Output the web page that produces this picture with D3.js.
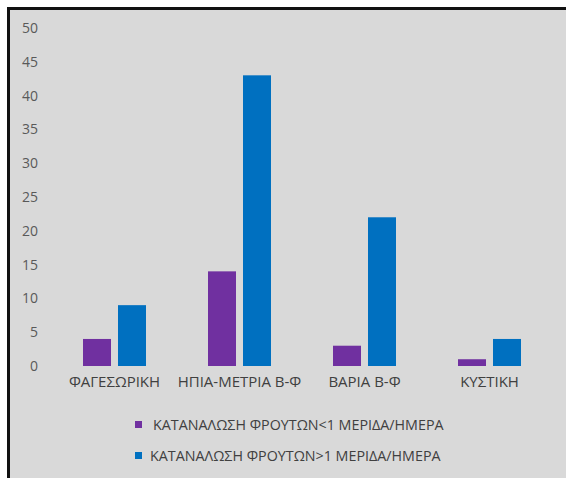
<!DOCTYPE html>
<html>
<head>
<meta charset="utf-8">
<script src="https://cdn.jsdelivr.net/npm/d3@7"></script>
<style>
  body { margin: 0; background: #fff; }
  svg { display: block; }
  text { font-family: "Open Sans", "Noto Sans", sans-serif; }
</style>
</head>
<body>
<svg width="566" height="478"></svg>
<script>
// chart data
var categories = ["ΦΑΓΕΣΩΡΙΚΗ", "ΗΠΙΑ-ΜΕΤΡΙΑ Β-Φ", "ΒΑΡΙΑ Β-Φ", "ΚΥΣΤΙΚΗ"];
var seriesNames = ["ΚΑΤΑΝΑΛΩΣΗ ΦΡΟΥΤΩΝ<1 ΜΕΡΙΔΑ/ΗΜΕΡΑ", "ΚΑΤΑΝΑΛΩΣΗ ΦΡΟΥΤΩΝ>1 ΜΕΡΙΔΑ/ΗΜΕΡΑ"];
var lessThanOne = [4, 14, 3, 1];
var moreThanOne = [9, 43, 22, 4];
var yTicks = [0, 5, 10, 15, 20, 25, 30, 35, 40, 45, 50];
var colors = ["#7030a0", "#0070c0"];

var svg = d3.select("svg");

// background panel and frame
svg.append("rect")
  .attr("x", 8).attr("y", 8)
  .attr("width", 558).attr("height", 470)
  .attr("fill", "#d9d9d9");
svg.append("path")
  .attr("d", "M8.5,478 V8.5 H566")
  .attr("fill", "none")
  .attr("stroke", "#111")
  .attr("stroke-width", 3);

// scales
var x = d3.scaleBand()
  .domain(categories)
  .range([52, 552])
  .paddingInner(0)
  .paddingOuter(0);

var y = d3.scaleLinear()
  .domain([0, 50])
  .range([366, 28]);

var barW = 28, gap = 7;

// y axis labels
var yAxis = d3.axisLeft(y).tickValues(yTicks).tickSize(0).tickPadding(0);
var gy = svg.append("g").attr("transform", "translate(38,0)").call(yAxis);
gy.select(".domain").remove();
gy.selectAll("text")
  .attr("fill", "#595959")
  .style("font-size", "14px");

// x axis labels
var xAxis = d3.axisBottom(x).tickSize(0).tickPadding(0);
var gx = svg.append("g").attr("transform", "translate(0,376)").call(xAxis);
gx.select(".domain").remove();
gx.selectAll("text")
  .attr("fill", "#404040")
  .style("font-size", "15px");

// bars
var series = [lessThanOne, moreThanOne];
series.forEach(function(vals, si) {
  svg.append("g").selectAll("rect")
    .data(vals)
    .enter()
    .append("rect")
    .attr("x", function(d, i) {
      var c = x(categories[i]) + x.bandwidth() / 2;
      return si === 0 ? c - gap / 2 - barW : c + gap / 2;
    })
    .attr("y", function(d) { return y(d); })
    .attr("width", barW)
    .attr("height", function(d) { return y(0) - y(d); })
    .attr("fill", colors[si]);
});

// legend
var legend = svg.append("g");
seriesNames.forEach(function(name, i) {
  var ly = 425 + i * 31;
  legend.append("rect")
    .attr("x", 135).attr("y", ly - 4)
    .attr("width", 7).attr("height", 7)
    .attr("fill", colors[i]);
  legend.append("text")
    .attr("x", i === 0 ? 153 : 150)
    .attr("y", ly)
    .attr("dy", "0.35em")
    .attr("fill", "#404040")
    .style("font-size", "14.3px")
    .text(name);
});
</script>
</body>
</html>
